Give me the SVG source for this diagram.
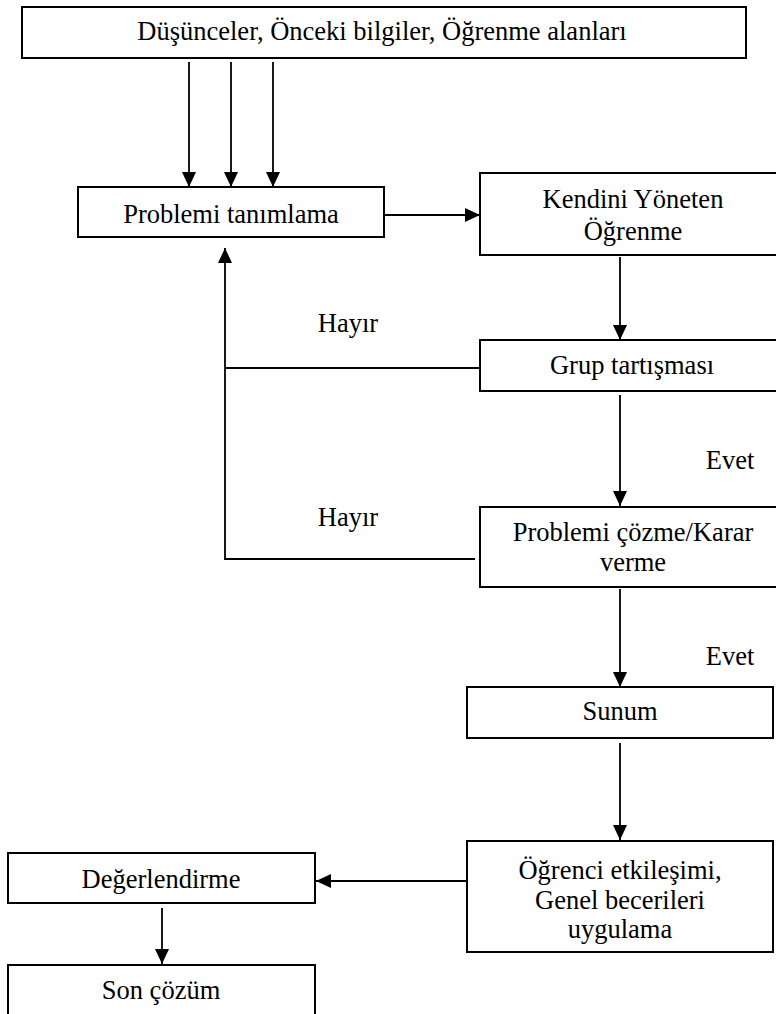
<svg xmlns="http://www.w3.org/2000/svg" width="776" height="1014" viewBox="0 0 776 1014">
<style>
.box{fill:#fff;stroke:#000;stroke-width:2}
.t{font-family:'Liberation Serif',Tinos,'Times New Roman',Times,'DejaVu Serif',serif;font-size:26.5px;fill:#000;text-anchor:middle}
.c{fill:none;stroke:#000;stroke-width:1.8}
</style>
<defs>
<marker id="ah" viewBox="0 0 15 14" refX="15" refY="7" markerWidth="15" markerHeight="14" markerUnits="userSpaceOnUse" orient="auto">
<path d="M0,0 L15,7 L0,14 Z" fill="#000"/>
</marker>
</defs>
<rect width="776" height="1014" fill="#fff"/>
<g id="connectors">
<line class="c" x1="189" y1="62" x2="189" y2="187" marker-end="url(#ah)"/>
<line class="c" x1="231" y1="62" x2="231" y2="187" marker-end="url(#ah)"/>
<line class="c" x1="273" y1="62" x2="273" y2="187" marker-end="url(#ah)"/>
<line class="c" x1="385" y1="215" x2="480" y2="215" marker-end="url(#ah)"/>
<line class="c" x1="620" y1="257" x2="620" y2="340" marker-end="url(#ah)"/>
<polyline class="c" points="480,368 225,368"/>
<polyline class="c" points="475,559 225,559 225,248" marker-end="url(#ah)"/>
<line class="c" x1="620" y1="395" x2="620" y2="506" marker-end="url(#ah)"/>
<line class="c" x1="620" y1="589" x2="620" y2="687" marker-end="url(#ah)"/>
<line class="c" x1="620" y1="743" x2="620" y2="840" marker-end="url(#ah)"/>
<line class="c" x1="467" y1="881" x2="316" y2="881" marker-end="url(#ah)"/>
<line class="c" x1="162" y1="908" x2="162" y2="964" marker-end="url(#ah)"/>
<text class="t" x="348" y="332">Hayır</text>
<text class="t" x="348" y="526">Hayır</text>
<text class="t" x="730" y="469">Evet</text>
<text class="t" x="730" y="665">Evet</text>
</g>
<g id="n-top">
<rect class="box" x="22" y="7" width="724" height="51"/>
<text class="t" x="382" y="40">Düşünceler, Önceki bilgiler, Öğrenme alanları</text>
</g>
<g id="n-problemi-tanimlama">
<rect class="box" x="78" y="187" width="306" height="50"/>
<text class="t" x="231" y="223">Problemi tanımlama</text>
</g>
<g id="n-kendini">
<rect class="box" x="480" y="173" width="306" height="82"/>
<text class="t" x="633" y="208">Kendini Yöneten</text>
<text class="t" x="633" y="240">Öğrenme</text>
</g>
<g id="n-grup">
<rect class="box" x="480" y="340" width="306" height="51"/>
<text class="t" x="632" y="374">Grup tartışması</text>
</g>
<g id="n-cozme">
<rect class="box" x="480" y="507" width="306" height="80"/>
<text class="t" x="633" y="541">Problemi çözme/Karar</text>
<text class="t" x="633" y="571">verme</text>
</g>
<g id="n-sunum">
<rect class="box" x="467" y="687" width="306" height="51"/>
<text class="t" x="620" y="720">Sunum</text>
</g>
<g id="n-ogrenci">
<rect class="box" x="467" y="841" width="306" height="111"/>
<text class="t" x="620" y="879">Öğrenci etkileşimi,</text>
<text class="t" x="620" y="909">Genel becerileri</text>
<text class="t" x="620" y="938">uygulama</text>
</g>
<g id="n-degerlendirme">
<rect class="box" x="8" y="853" width="307" height="50"/>
<text class="t" x="161" y="888">Değerlendirme</text>
</g>
<g id="n-son">
<rect class="box" x="8" y="965" width="307" height="60"/>
<text class="t" x="161" y="999">Son çözüm</text>
</g>
</svg>
